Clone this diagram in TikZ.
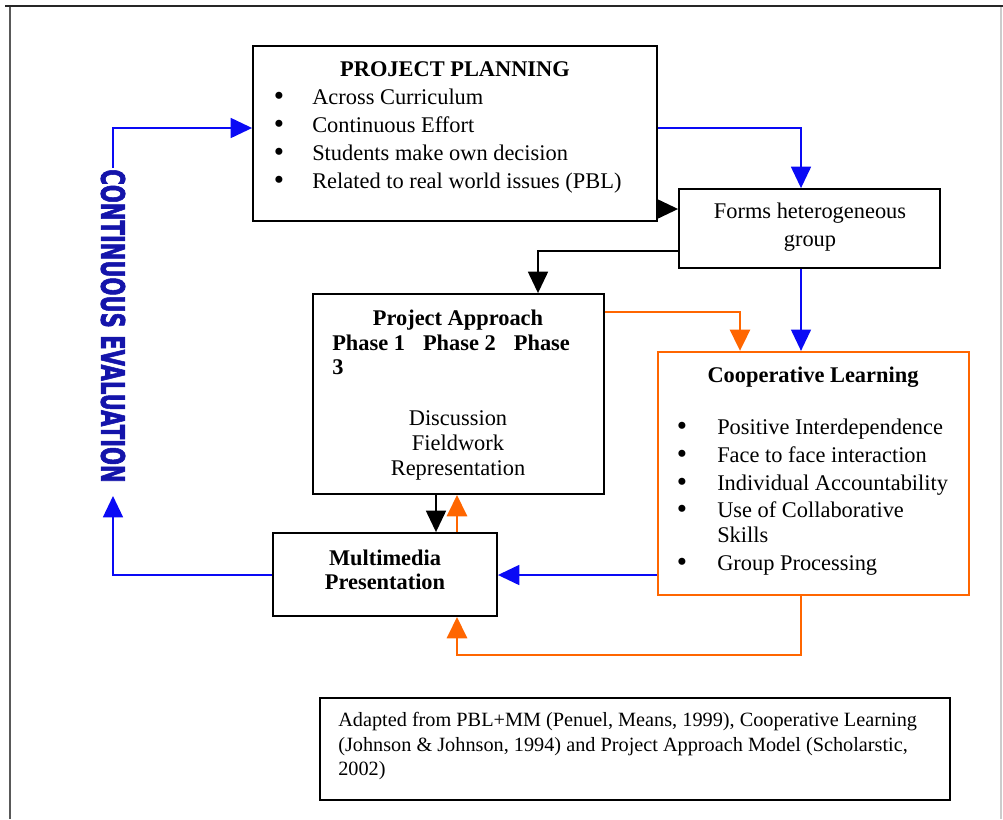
\documentclass[tikz,border=0pt]{standalone}
\usepackage{fontspec}
\setmainfont{Liberation Serif}
\newfontfamily\evalfont[FakeBold=2.5]{DejaVu Sans Bold}
\usetikzlibrary{arrows.meta,fit}

\definecolor{flowblue}{RGB}{10,10,245}
\definecolor{floworange}{RGB}{255,102,0}
\definecolor{evalblue}{RGB}{20,20,170}

\tikzset{
  box/.style={draw=black, line width=1.4pt, inner sep=0pt},
  obox/.style={draw=floworange, line width=1.7pt, inner sep=0pt},
  txt/.style={font=\fontsize{16.8}{21}\selectfont, inner sep=0pt, anchor=base},
  ltxt/.style={txt, anchor=base west},
  btxt/.style={txt, font=\fontsize{16.8}{21}\selectfont\bfseries},
  lbtxt/.style={btxt, anchor=base west},
  dot/.style={txt, font=\fontsize{22}{22}\selectfont},
  small/.style={font=\fontsize{15.2}{18.4}\selectfont, inner sep=0pt, anchor=base west},
  tip/.style={-{Triangle[length=16pt,width=15pt]}},
  bl/.style={draw=flowblue, line width=1.1pt, tip},
  bk/.style={draw=black, line width=1.1pt, tip},
  or/.style={draw=floworange, line width=2.2pt, tip},
}

\begin{document}
\begin{tikzpicture}[x=0.75pt,y=-0.75pt]
\useasboundingbox (0,0) rectangle (1003,819);

% page frame
\draw[gray!70!black, line width=1.4pt] (10,6) -- (10,819);
\draw[gray!40, line width=0.8pt] (1001,6) -- (1001,819);
\draw[black!85, line width=1.8pt] (5,6) -- (1003,6);

% boxes
\node[box, fit={(253,46) (657,221)}] (pp) {};
\node[box, fit={(679,189) (940,268)}] (fh) {};
\node[box, fit={(313,294) (604,494)}] (pa) {};
\node[obox, fit={(658,352) (969,595)}] (cl) {};
\node[box, fit={(273,533) (497,616)}] (mm) {};
\node[box, line width=1.1pt, fit={(320,698) (950,800)}] (fn) {};

% project planning
\node[btxt] (ppt) at (455,76) {PROJECT PLANNING};
\foreach \i/\y/\t in {1/104/Across Curriculum, 2/132/Continuous Effort,
    3/160/Students make own decision, 4/188/Related to real world issues (PBL)} {
  \node[dot] (ppb\i) at (279,\y+1) {•};
  \node[ltxt] (ppl\i) at (312,\y) {\t};
}

% heterogeneous group
\node[txt] (fh1) at (810,218) {Forms heterogeneous};
\node[txt] (fh2) at (810,246) {group};

% project approach
\node[btxt] (pat) at (458,325) {Project Approach};
\node[lbtxt] (pap) at (332,350) {Phase 1\hspace{13.5pt}Phase 2\hspace{13.5pt}Phase};
\node[lbtxt] (pap3) at (332,374) {3};
\node[txt] (pa1) at (458,425) {Discussion};
\node[txt] (pa2) at (458,450) {Fieldwork};
\node[txt] (pa3) at (458,475) {Representation};

% cooperative learning
\node[btxt] (clt) at (813,382) {Cooperative Learning};
\foreach \i/\y/\t in {1/434/Positive Interdependence, 2/462/Face to face interaction,
    3/490/Individual Accountability, 4/517/Use of Collaborative, 6/570/Group Processing} {
  \node[dot] (clb\i) at (682,\y+1) {•};
  \node[ltxt] (cll\i) at (717,\y) {\t};
}
\node[ltxt] (cll5) at (717,542) {Skills};

% multimedia presentation
\node[btxt] (mm1) at (385,565) {Multimedia};
\node[btxt] (mm2) at (385,589) {Presentation};

% source note
\node[small] (fn1) at (338,726) {Adapted from PBL+MM (Penuel, Means, 1999), Cooperative Learning};
\node[small] (fn2) at (338,751) {(Johnson \& Johnson, 1994) and Project Approach Model (Scholarstic,};
\node[small] (fn3) at (338,775) {2002)};

% vertical evaluation label
\node[inner sep=0pt, rotate=-90, text=evalblue] (ce) at (113,326)
  {\resizebox{235pt}{18pt}{\evalfont CONTINUOUS EVALUATION}};
\coordinate (cet) at (113,168);
\coordinate (ceb) at (113,496);
\coordinate (oloop) at (801,655);

% connectors
\draw[bl] (cet) |- (pp.west |- 0,128);
\draw[bl] (mm.west |- 0,575) -| (ceb);
\draw[bl] (pp.east |- 0,128) -| (fh.north -| 801,0);
\draw[bk] (pp.east |- 0,209) -- (fh.west |- 0,209);
\draw[bk] (fh.west |- 0,251) -| (pa.north -| 538,0);
\draw[bl] (fh.south -| 801,0) -- (cl.north -| 801,0);
\draw[or] (pa.east |- 0,312) -| (cl.north -| 740,0);
\draw[bk] (pa.south -| 436,0) -- (mm.north -| 436,0);
\draw[or] (mm.north -| 457,0) -- (pa.south -| 457,0);
\draw[bl] (cl.west |- 0,575) -- (mm.east |- 0,575);
\draw[or] (cl.south -| 801,0) -- (oloop) -| (mm.south -| 457,0);
\end{tikzpicture}
\end{document}
